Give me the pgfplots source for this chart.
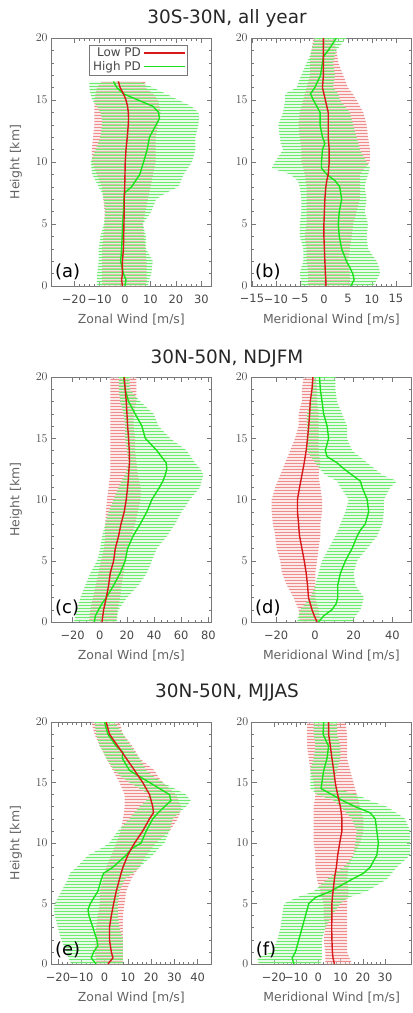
\documentclass[border=0pt]{standalone}
\usepackage{fontspec}
\setmainfont{DejaVu Sans}
\usepackage{pgfplots}
\usepackage{pgfplotstable}
\pgfplotsset{compat=1.18}
\usetikzlibrary{patterns}

\pgfdeclarepatternformonly{hbarsA}{\pgfqpoint{-1bp}{0bp}}{\pgfqpoint{101bp}{3bp}}{\pgfqpoint{100bp}{3bp}}{%
  \pgfsetlinewidth{1.25bp}%
  \pgfpathmoveto{\pgfqpoint{-1bp}{0.75bp}}%
  \pgfpathlineto{\pgfqpoint{101bp}{0.75bp}}%
  \pgfusepath{stroke}}
\pgfdeclarepatternformonly{hbarsB}{\pgfqpoint{-1bp}{0bp}}{\pgfqpoint{101bp}{3bp}}{\pgfqpoint{100bp}{3bp}}{%
  \pgfsetlinewidth{1.25bp}%
  \pgfpathmoveto{\pgfqpoint{-1bp}{2.25bp}}%
  \pgfpathlineto{\pgfqpoint{101bp}{2.25bp}}%
  \pgfusepath{stroke}}

\definecolor{redline}{RGB}{215,25,25}
\definecolor{greenline}{RGB}{30,225,30}
\definecolor{redfill}{RGB}{250,212,212}
\definecolor{greenfill}{RGB}{205,245,205}
\definecolor{redbar}{RGB}{238,140,140}
\definecolor{greenbar}{RGB}{110,235,110}
\definecolor{framec}{RGB}{120,120,120}
\definecolor{textc}{RGB}{70,70,70}

% h = height [km]; r* = Low PD (mean, low, high); g* = High PD (mean, low, high)
\pgfplotstableread{
h rm rlo rhi gm glo ghi
0 -1.0 -9 8 0.0 -10.9 9
0.5 -1.3 -9 8.5 0.4 -11 9.5
1 -1.0 -9 8.5 -0.6 -10.9 10.3
2 -1.0 -9 8.5 -1.7 -10.3 10.9
3 -0.6 -9 8 -1.3 -10.3 8.3
4 -0.5 -8.5 7.5 -1.1 -9.6 8.3
5 -0.4 -8 7 -0.9 -8.3 7
6 -0.3 -8 8 -0.6 -7.7 10.3
7 -0.3 -8.5 9 -0.4 -8.3 12.2
7.5 -0.2 -8.7 9.5 -0.2 -9 16
8 -0.1 -9 10 2.6 -10.3 21
9 0.0 -11 11 5.8 -12.8 23
10 0.1 -13 12 7.3 -13.5 26.3
11 0.4 -13 12 8.7 -11.5 27.6
12 0.9 -12.5 12 9.6 -9.6 27.6
13 1.3 -12 13 12.2 -9 28.8
13.5 1.4 -12 13.5 13.5 -9 29
14 1.3 -12 14 13.2 -9.6 28.8
14.5 1.0 -12 13.5 10.9 -11 26
15 0.4 -12 13 5.1 -12.8 21
15.5 -0.6 -11.5 11 -0.6 -13.5 16
16 -1.9 -11 8 -3.2 -14 11
16.5 -2.6 -9 8 -4.5 -14 5.8
}\tA
\pgfplotstableread{
h rm rlo rhi gm glo ghi
0 0.4 -3.3 5.4 5.6 -4.7 10.3
0.5 0.4 -3.3 5.4 6.3 -4.8 11
1 0.3 -3.3 5.4 6.0 -5 11.7
1.5 0.25 -3.4 5.2 5.4 -4.7 11.5
2 0.2 -3.6 5 4.7 -4.3 11
3 0.1 -3.6 5.4 3.7 -4.3 9.2
4 0.0 -4 5.8 3.2 -5 8.9
5 0.0 -3.6 6.1 3.0 -5 9.2
6 0.1 -3.6 6.8 3.2 -4.7 8.5
7 0.2 -3.6 7.5 3.7 -4.7 8.9
8 0.4 -3.6 7.5 3.3 -5 8.5
8.5 0.6 -3.8 7.5 2.3 -5.5 8.8
9 0.9 -4 7.5 0.6 -7 9.2
9.5 1.0 -4.3 8.5 -0.5 -10.9 9.6
10 1.1 -4.7 9.6 -0.5 -10.2 8.9
11 1.1 -4.7 9.6 -0.3 -8.5 7.5
11.5 1.0 -4.8 9.4 0.2 -9 7.2
12 0.9 -5 9.2 -0.3 -9.2 6.8
13 0.9 -5.3 8.9 -0.8 -9.5 6.1
14 0.9 -5 8.2 -0.8 -8.5 5.4
15 0.3 -4.3 6.8 -2.2 -8.1 3.3
15.5 0.0 -4 6 -2.8 -8.1 3
16 -0.3 -3.6 5 -1.9 -5.7 1.9
17 -0.1 -2.9 4 -0.7 -4.7 2.3
18 -0.1 -2.9 3 -0.3 -3.6 1.9
18.5 -0.1 -2.8 2.8 -0.1 -3 2.2
19 -0.1 -2.6 2.6 0.9 -2.6 2.6
20 -0.1 -2.2 1.9 2.6 -1.9 4.7
}\tB
\pgfplotstableread{
h rm rlo rhi gm glo ghi
0 1.6 -8 12 -4.0 -19 12.6
0.5 2.2 -7.5 12.5 -3.3 -18 13
1 2.8 -7 13 -0.9 -16.8 13.8
1.5 3.8 -6 14 1.6 -15.5 17
2 4.8 -5 15 4.8 -14.3 20
3 6.5 -3 16 10.2 -10.7 28.6
4 7.7 -1 17.5 15.0 -7 34.7
5 10.2 1 19 18.7 -2 38.4
6 11.4 3 20.5 20.5 0.4 42
7 13.8 4 23 24.4 1.6 49.4
8 15.6 4 26 29.8 4 55.5
9 18.0 4.5 28 34.7 6.5 60.4
10 19.5 5.3 30 38.4 10.2 66.5
11 20.5 6.5 30 44.0 13.8 73.9
11.5 20.9 7 29 46.5 16 75
12 21.2 7.7 28 48.2 18.7 76.4
12.5 21.5 7.7 27.5 49.4 20 74
13 21.9 7.7 27 48.9 21.2 70.2
14 21.7 7.7 26 42.0 20 64
15 21.2 7.7 26 33.5 18.7 51.8
16 20.5 7.7 25 31.0 18.7 43.3
17 20.0 7.7 25 26.0 17.5 39.6
18 19.5 7.7 27 21.2 15 29.8
19 18.7 7.7 27 18.7 14 22
20 18.0 7.7 27 17.5 14 22
}\tC
\pgfplotstableread{
h rm rlo rhi gm glo ghi
0 1.1 -7.6 2.8 1.9 -9.3 19.2
0.5 -0.3 -8 2.4 4.5 -8.5 21
1 -1.5 -8.4 1.9 8.8 -7.6 23.5
1.5 -2.4 -9.7 1 11.0 -5 24.5
2 -3.3 -11 0.2 11.8 -2.4 25.3
3 -3.8 -14.5 0.2 11.8 0.2 21
4 -4.5 -17 0.2 13.2 1.9 20
5 -5.5 -17.9 1.1 15.8 3.7 21.8
6 -6.7 -19.7 1.9 19.2 7.1 27
7 -7.9 -20.5 2.8 21.8 10.5 32.1
7.5 -8.2 -21 2.8 23.5 12 33.5
8 -8.4 -21.7 2.8 26.0 13.2 34.8
9 -9.0 -22.3 3.7 27.8 15.8 35.6
10 -9.0 -22.3 3.7 27.0 17.5 35.6
11 -7.9 -20.5 2.8 24.4 13.2 39
11.5 -7.3 -19.2 2.3 23.5 11.4 42.5
12 -6.7 -17.9 1.9 19.2 5.4 34.8
12.5 -6.1 -16.6 2.3 15.0 2.5 31
13 -5.5 -15.4 2.8 11.4 0.2 27
13.5 -5.0 -14 2.3 6.3 -2 23
14 -4.5 -12.8 1.9 5.4 -4.1 19.2
15 -3.8 -10.2 1.9 7.1 -4.1 16.6
16 -3.2 -8.4 1.9 6.3 -4.1 16.6
17 -2.7 -8.4 1.9 4.5 -4.1 14
18 -2.4 -6.7 1.1 3.7 -2.4 11.4
19 -1.5 -6.7 1.1 2.8 -1.5 10.6
20 -1.0 -5.8 0.2 2.4 -1.5 10.6
}\tD
\pgfplotstableread{
h rm rlo rhi gm glo ghi
0 1.4 -3.6 7.9 -3.6 -14.3 7.9
0.5 3.6 -3.8 7.9 -5.7 -15.5 7.9
1 2.9 -4.3 7.9 -4.7 -16.4 7.9
1.5 2.5 -4 7.9 -2.9 -17.5 7.9
2 2.1 -3.6 7.9 -3.3 -18.6 7.9
3 2.1 -3.6 7.9 -5.0 -20 6.4
4 2.9 -2.9 7.9 -6.7 -21.4 5.7
4.5 3.4 -2.5 8.2 -7.1 -21.8 5.7
5 3.9 -2 8.6 -6.1 -21.4 5.7
6 5.0 -2 9.3 -2.9 -18.6 6.4
7 6.4 -0.7 11.4 -1.4 -15.7 8.6
7.5 7.1 0 13 -0.4 -15 12
8 7.9 0.7 15 3.6 -12 15
9 10.0 2.9 17.9 9.3 -7 20.7
9.5 11.4 4 20 11.4 -2 22.9
10 12.9 5 22 15.7 2 25.7
11 16.4 7 28 17.9 5.7 27.9
12 19.3 7.9 31.4 20.7 10.7 29.3
12.5 21.0 8.3 32.5 23.0 12.8 32
13 20.7 8.6 32.9 25.7 15 35
13.5 20.0 8.6 31.8 28.5 17.9 37
14 19.3 8.6 30.7 27.9 19.3 35
15 16.4 6.4 25 19.3 10.7 25
15.5 14.6 5 23 15.0 7 21
16 12.9 3.6 21.4 10.7 4.3 17.9
17 9.3 0.7 15 7.6 0.7 15
17.5 7.5 -0.6 13.5 7.9 -0.5 13
18 5.7 -2 12 5.0 -2 11.4
19 2.1 -4.3 7.9 1.4 -3.6 7.9
20 0.7 -5.7 6.4 0.0 -4.3 4.3
}\tE
\pgfplotstableread{
h rm rlo rhi gm glo ghi
0 7.2 3.1 15.1 -11.0 -26.8 0.9
0.5 6.6 3.1 14 -11.8 -27.5 1.6
1 6.3 3.1 12.9 -10.3 -20.8 1.6
2 6.1 2.4 12.9 -8.8 -18.5 1.6
3 6.0 3.1 12.9 -7.3 -17 3.1
4 6.1 2.4 12.9 -5.8 -16.3 6.1
5 6.1 2.4 12.9 -4.3 -15.5 9.9
5.5 6.3 1.6 13.2 -1.3 -9.6 13.6
6 6.6 0.9 13.6 5.4 -2.1 21.8
7 7.2 -0.6 12.9 15.1 3.9 30.8
7.5 7.6 -1 13.2 20.3 7.5 33
8 8.1 -1.3 13.6 23.3 11.4 35.3
9 8.7 -1.3 15.8 26.3 15.8 41.3
10 9.6 -2.1 18.8 27.0 16.6 41.3
11 10.6 -2.1 20.3 26.3 17.3 41.3
12 10.6 -2.1 20.3 25.6 15.1 39
12.5 10.3 -2.1 19.5 23.3 12.5 35
13 9.9 -2.1 18.8 16.6 9.9 30.8
13.5 9.3 -1.7 18 11.0 6.9 23.3
14 8.7 -1.3 17.3 6.1 -0.6 17.3
14.5 8.1 -1.7 16.5 1.2 -3.6 8.4
15 7.6 -2.1 15.8 1.6 -3.6 6.9
16 6.9 -3.6 14.3 2.4 -3.6 8.4
17 6.1 -4.3 12.9 3.9 -2.1 9.9
18 5.4 -5.1 12.9 4.6 -1.3 9.9
19 4.6 -5.1 12.9 2.1 -2.1 8.4
20 4.6 -5.1 12.1 2.4 -2.1 8.4
}\tF

% bands drawn as x-stacked areas: lo_r | hi_r-lo_r (filled) | lo_g-hi_r | hi_g-lo_g (filled)
\newcommand{\profiles}[1]{%
  \addplot[draw=none, forget plot] table[x=rlo, y=h] {#1};
  \addplot[draw=none, fill=redfill, fill opacity=0.5,
    postaction={pattern=hbarsA, pattern color=redbar, fill opacity=0.9}, forget plot]
    table[x expr=\thisrow{rhi}-\thisrow{rlo}, y=h] {#1} \closedcycle;
  \addplot[draw=none, forget plot] table[x expr=\thisrow{glo}-\thisrow{rhi}, y=h] {#1};
  \addplot[draw=none, fill=greenfill, fill opacity=0.45,
    postaction={pattern=hbarsB, pattern color=greenbar, fill opacity=0.9}, forget plot]
    table[x expr=\thisrow{ghi}-\thisrow{glo}, y=h] {#1} \closedcycle;
  \addplot[stack plots=false, greenline, line width=1.4bp, forget plot] table[x=gm, y=h] {#1};
  \addplot[stack plots=false, redline, line width=1.4bp, forget plot] table[x=rm, y=h] {#1};
}

\pgfplotsset{
  panel/.style={
    scale only axis, anchor=north west, stack plots=x, reverse stacked plots=false,
    ymin=0, ymax=20, ytick={0,5,10,15,20}, minor y tick num=4,
    axis line style={framec, line width=0.6bp},
    tick style={framec, line width=0.5bp},
    major tick length=5bp, minor tick length=2.5bp, tick align=inside,
    tick label style={font=\fontsize{11.5}{12}\selectfont, text=textc},
    xticklabel style={yshift=-5bp},
    label style={font=\fontsize{12.5}{13}\selectfont, text=textc!85!white},
    xlabel style={at={(axis description cs:0.5,0)}, anchor=base, yshift=-37bp},
    ylabel style={at={(axis description cs:-0.218,0.5)}, anchor=center},
  },
}
\tikzset{plabel/.style={anchor=base west, inner sep=0pt, font=\fontsize{18}{18}\selectfont, text=black}}

\begin{document}
\begin{tikzpicture}

\node[anchor=base, font=\fontsize{18.5}{19}\selectfont, text=black!85] at (227bp,-23bp) {30S-30N, all year};
\node[anchor=base, font=\fontsize{18.5}{19}\selectfont, text=black!85] at (227bp,-363bp) {30N-50N, NDJFM};
\node[anchor=base, font=\fontsize{18.5}{19}\selectfont, text=black!85] at (227bp,-697bp) {30N-50N, MJJAS};

% (a)
\begin{axis}[panel, at={(51bp,-38bp)}, width=160.7bp, height=248bp,
  xmin=-29, xmax=34, xtick={-20,-10,0,10,20,30}, xticklabels={−20,−10,0,10,20,30}, minor x tick num=4,
  xlabel={Zonal Wind [m/s]}, ylabel={Height [km]},
  legend style={at={(0.236,0.972)}, anchor=north west, draw=framec, fill=white,
    font=\fontsize{12}{12}\selectfont, text=textc, inner xsep=2bp, inner ysep=1bp,
    row sep=-1bp, cells={anchor=east}},
  legend plot pos=right,
  legend image code/.code={\draw[#1] (0bp,0bp) -- (41bp,0bp);}]
\profiles{\tA}
\addlegendimage{color=redline, line width=1.6bp}\addlegendentry{Low PD}
\addlegendimage{color=greenline, line width=1.6bp}\addlegendentry{High PD}
\node[plabel] at (rel axis cs:0.025,0.036) {(a)};
\end{axis}

% (b)
\begin{axis}[panel, at={(251bp,-38bp)}, width=160.7bp, height=248bp,
  xmin=-15.2, xmax=18.3, xtick={-15,-10,-5,0,5,10,15}, xticklabels={−15,−10,−5,0,5,10,15}, minor x tick num=4,
  xlabel={Meridional Wind [m/s]}]
\profiles{\tB}
\node[plabel] at (rel axis cs:0.025,0.036) {(b)};
\end{axis}

% (c)
\begin{axis}[panel, at={(51bp,-377bp)}, width=160.7bp, height=245bp,
  xmin=-36, xmax=82.5, xtick={-20,0,20,40,60,80}, xticklabels={−20,0,20,40,60,80}, minor x tick num=3,
  xlabel={Zonal Wind [m/s]}, ylabel={Height [km]}]
\profiles{\tC}
\node[plabel] at (rel axis cs:0.025,0.036) {(c)};
\end{axis}

% (d)
\begin{axis}[panel, at={(251bp,-377bp)}, width=160.7bp, height=245bp,
  xmin=-33, xmax=50, xtick={-20,0,20,40}, xticklabels={−20,0,20,40}, minor x tick num=3,
  xlabel={Meridional Wind [m/s]}]
\profiles{\tD}
\node[plabel] at (rel axis cs:0.025,0.036) {(d)};
\end{axis}

% (e)
\begin{axis}[panel, at={(51bp,-722bp)}, width=160.7bp, height=242bp,
  xmin=-23, xmax=46, xtick={-20,-10,0,10,20,30,40}, xticklabels={−20,−10,0,10,20,30,40}, minor x tick num=4,
  xlabel={Zonal Wind [m/s]}, ylabel={Height [km]}]
\profiles{\tE}
\node[plabel] at (rel axis cs:0.025,0.036) {(e)};
\end{axis}

% (f)
\begin{axis}[panel, at={(251.7bp,-722bp)}, width=160bp, height=242bp,
  xmin=-30, xmax=42, xtick={-20,-10,0,10,20,30}, xticklabels={−20,−10,0,10,20,30}, minor x tick num=4,
  xlabel={Meridional Wind [m/s]}]
\profiles{\tF}
\node[plabel] at (rel axis cs:0.025,0.036) {(f)};
\end{axis}

\path (0,0) rectangle (413bp,-1013bp);
\end{tikzpicture}
\end{document}
